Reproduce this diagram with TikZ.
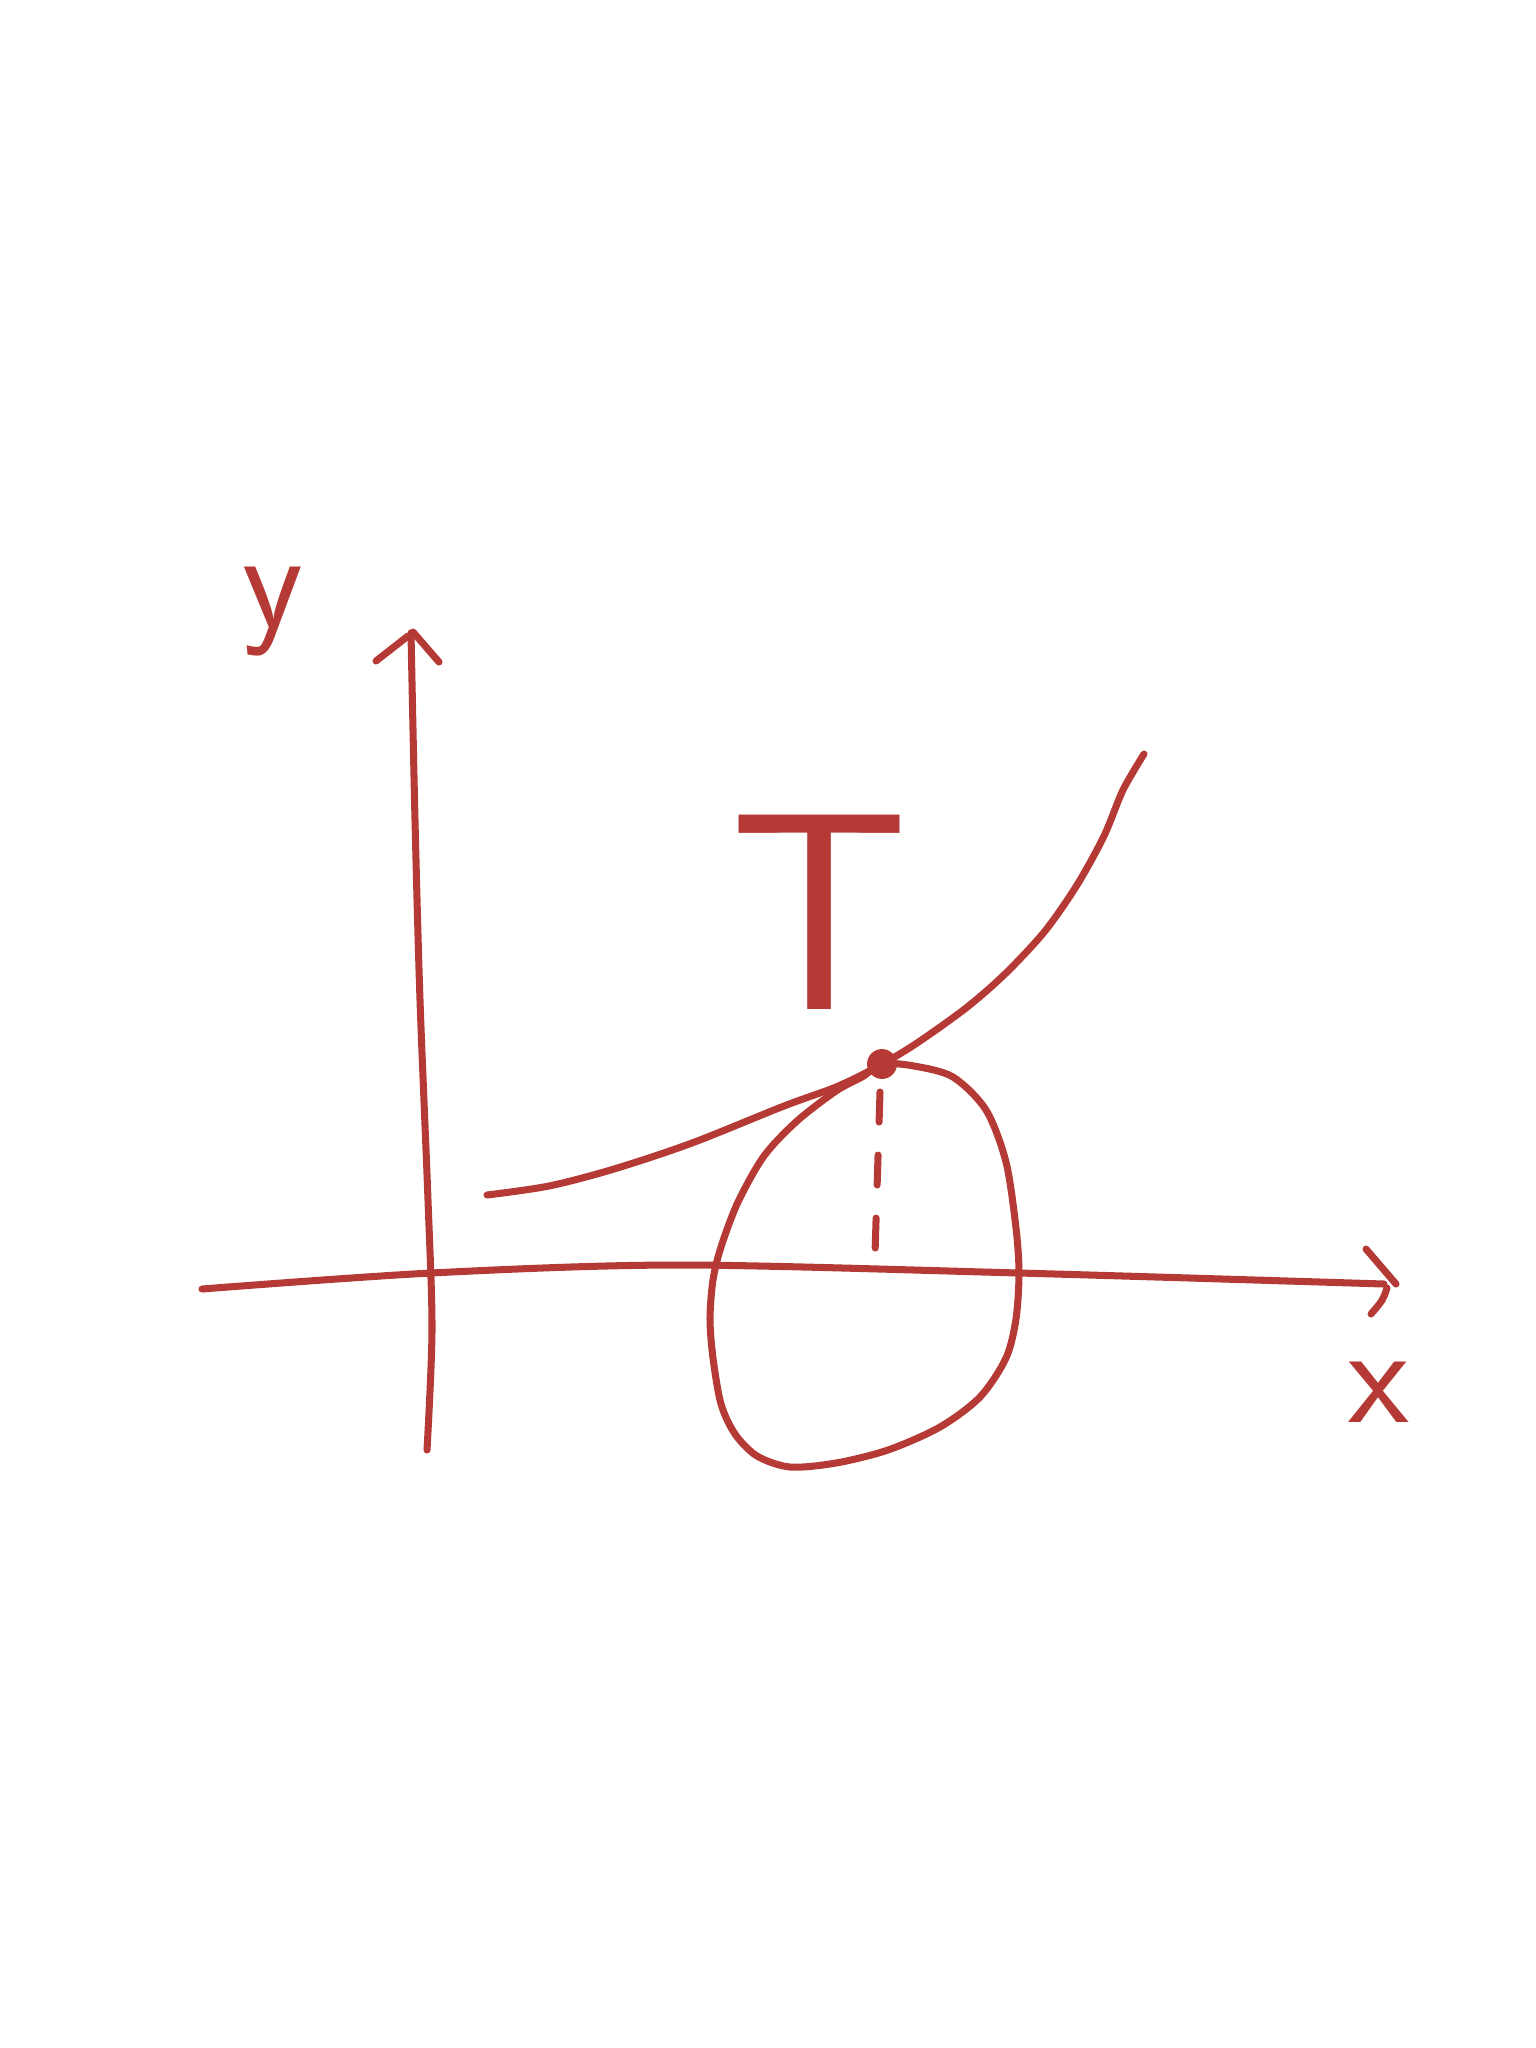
\documentclass[tikz,border=0pt]{standalone}
\usepackage{xcolor}
\usepackage{tikz}
\usetikzlibrary{positioning}
\usetikzlibrary{calc}
\definecolor{sketchred}{HTML}{B53A35}

\begin{document}
\begin{tikzpicture}[x=0.01cm,y=-0.01cm]
			\tikzstyle{pen}=[draw=sketchred,line width=2pt,line cap=round,line join=round]
			\tikzstyle{letter}=[text=sketchred,inner sep=0pt]
			\useasboundingbox (0,0) rectangle (1536,2048);

			% axes
			\coordinate (ybot) at (427,1450);
			\coordinate (ytop) at (411,633);
			\coordinate (xleft) at (202,1289);
			\coordinate (xright) at (1384,1284);
			\draw[pen] plot[smooth] coordinates {(ybot) (432,1330) (428,1200) (420,1000) (415,820) (ytop)};
			\draw[pen] (376,661) -- (408,636);
			\draw[pen] (413,632) -- (439,662);
			\draw[pen] plot[smooth] coordinates {(xleft) (431,1273) (679,1265) (1019,1273) (xright)};
			\draw[pen] (1366,1249) -- (1396,1284);
			\draw[pen] (1387,1288) .. controls (1383,1300) .. (1371,1314);

			\node (ylab) [letter,font=\fontsize{40}{40}\selectfont\sffamily] at (273,612) {y};
			\node (xlab) [letter,font=\fontsize{40}{40}\selectfont\sffamily] at (1379,1392) {x};

			% curve and blob
			\draw[pen] plot[smooth] coordinates {(487,1195) (549,1186) (614,1169) (692,1143) (784,1106) (836,1087) (875,1068) (914,1045) (966,1008) (1006,973) (1045,931) (1077,885) (1104,836) (1123,790) (1144,754)};
			\draw[pen] plot[smooth cycle] coordinates {(882,1064) (914,1066) (953,1077) (986,1110) (1006,1162) (1016,1228) (1019,1273) (1016,1319) (1006,1358) (980,1397) (940,1427) (888,1450) (836,1463) (790,1467) (757,1456) (735,1434) (721,1404) (713,1358) (710,1319) (713,1280) (721,1247) (738,1202) (764,1156) (797,1121) (836,1091) (862,1077)};

			\node (p) [circle,fill=sketchred,minimum size=8.5pt,inner sep=0pt] at (882,1064) {};
			\coordinate (ptop) at (880,1092);
			\coordinate (pfoot) at (875,1254);
			\draw[pen,dash pattern=on 0.3cm off 0.33cm] (ptop) -- (pfoot);

			\node (T) [letter,font=\fontsize{80}{80}\selectfont\sffamily] at (820,912) {T};
\end{tikzpicture}
\end{document}
